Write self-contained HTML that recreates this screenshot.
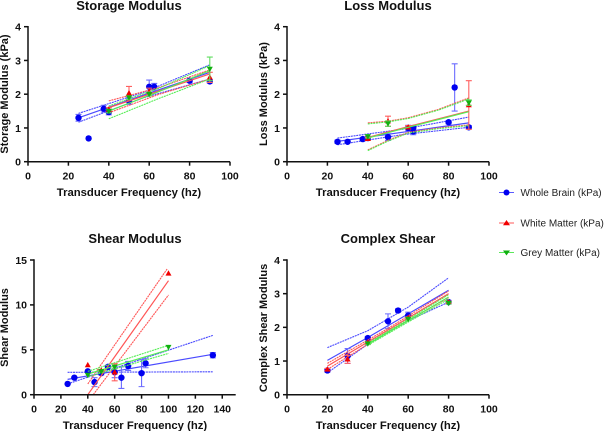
<!DOCTYPE html>
<html>
<head>
<meta charset="utf-8">
<style>
html,body{margin:0;padding:0;background:#fff;width:605px;height:431px;overflow:hidden}
svg{display:block;font-family:"Liberation Sans",Arial,sans-serif;filter:blur(0.35px)}
</style>
</head>
<body>
<svg id="chart" width="605" height="431" viewBox="0 0 605 431" xmlns="http://www.w3.org/2000/svg">
<g>
  <g>
    <line x1="499" y1="192.5" x2="514" y2="192.5" stroke="#5a5aff" stroke-width="1"/>
    <circle cx="506.5" cy="192.5" r="3" fill="#0000f0"/>
    <text x="520.5" y="196" font-size="10" fill="#222">Whole Brain (kPa)</text>
  </g>
  <g>
    <line x1="499" y1="223" x2="514" y2="223" stroke="#ff5a5a" stroke-width="1"/>
    <polygon points="506.5,220 510,225.2 503,225.2" fill="#f00000"/>
    <text x="520.5" y="226.5" font-size="10" fill="#222">White Matter (kPa)</text>
  </g>
  <g>
    <line x1="499" y1="252.5" x2="514" y2="252.5" stroke="#5ae85a" stroke-width="1"/>
    <polygon points="503,250.5 510,250.5 506.5,255.5" fill="#10b010"/>
    <text x="520.5" y="256" font-size="10" fill="#222">Grey Matter (kPa)</text>
  </g>
</g>
</svg>
<script>
// ---- Storage Modulus data ----
var storageWholeX = [25, 30, 37.5, 40, 50, 60, 62.5, 80, 90];
var storageWholeY = [1.3, 0.69, 1.57, 1.47, 1.8, 2.22, 2.22, 2.4, 2.38];
var storageWholeErr = [0.1, 0, 0.1, 0.08, 0.1, 0.2, 0.1, 0.05, 0.05];
var storageWhiteX = [40, 50, 60, 90];
var storageWhiteY = [1.55, 2.03, 2.08, 2.5];
var storageWhiteErr = [0.05, 0.2, 0.1, 0.15];
var storageGreyX = [40, 50, 60, 90];
var storageGreyY = [1.5, 1.9, 2.0, 2.75];
var storageGreyErr = [0.05, 0.05, 0.05, 0.35];
var storageWholeFitX = [25, 57, 90];
var storageWholeFit = [1.3, 1.97, 2.65];
var storageWholeUpper = [1.43, 2.05, 2.87];
var storageWholeLower = [1.17, 1.89, 2.45];
var storageWhiteFitX = [40, 65, 90];
var storageWhiteFit = [1.6, 2.1, 2.6];
var storageWhiteUpper = [1.8, 2.2, 2.72];
var storageWhiteLower = [1.45, 2.0, 2.45];
var storageGreyFitX = [40, 65, 90];
var storageGreyFit = [1.5, 2.08, 2.7];
var storageGreyUpper = [1.65, 2.18, 2.85];
var storageGreyLower = [1.27, 1.88, 2.45];

// ---- Loss Modulus data ----
var lossWholeX = [25, 30, 37.5, 40, 50, 60, 62.5, 62.5, 80, 83, 90];
var lossWholeY = [0.59, 0.59, 0.67, 0.7, 0.73, 1.0, 0.9, 1.0, 1.17, 2.2, 1.02];
var lossWholeErr = [0.05, 0.03, 0.05, 0.05, 0.1, 0.08, 0.1, 0.05, 0.05, 0.7, 0.05];
var lossWhiteX = [40, 50, 60, 90];
var lossWhiteY = [0.68, 1.2, 1.02, 1.68];
var lossWhiteErr = [0.05, 0.15, 0.05, 0.72];
var lossGreyX = [40, 50, 90];
var lossGreyY = [0.75, 1.13, 1.75];
var lossGreyErr = [0.05, 0.08, 0.08];
var lossWholeFitX = [25, 57, 90];
var lossWholeFit = [0.6, 0.87, 1.15];
var lossWholeUpper = [0.7, 0.96, 1.32];
var lossWholeLower = [0.5, 0.8, 1.02];
var lossWhiteFitX = [40, 50, 60, 75, 90];
var lossWhiteFit = [0.72, 0.88, 1.04, 1.27, 1.5];
var lossWhiteUpper = [1.15, 1.2, 1.3, 1.55, 1.89];
var lossWhiteLower = [0.35, 0.63, 0.87, 1.0, 1.09];
var lossGreyFitX = [40, 50, 60, 75, 90];
var lossGreyFit = [0.7, 0.86, 1.02, 1.25, 1.48];
var lossGreyUpper = [1.12, 1.18, 1.28, 1.53, 1.86];
var lossGreyLower = [0.33, 0.61, 0.85, 0.98, 1.07];

// ---- Shear Modulus data ----
var shearWholeX = [25, 30, 40, 45, 50, 55, 60, 65, 70, 80, 83, 133];
var shearWholeY = [1.2, 1.9, 2.6, 1.4, 2.4, 3.1, 2.5, 1.9, 3.2, 2.4, 3.5, 4.4];
var shearWholeErr = [0, 0, 0, 0.5, 0.2, 0, 0.6, 1.2, 0.5, 1.5, 0.5, 0.3];
var shearWhiteX = [40, 50, 60, 100];
var shearWhiteY = [3.3, 2.7, 2.5, 13.5];
var shearWhiteErr = [0, 0.1, 0.95, 0];
var shearGreyX = [40, 50, 60, 100];
var shearGreyY = [2.2, 2.6, 3.1, 5.3];
var shearGreyErr = [0, 0.1, 0.2, 0];
var shearWholeFitX = [25, 133];
var shearWholeFit = [1.7, 4.5];
var shearWholeUpper = [1.2, 6.6];
var shearWholeLower = [2.5, 2.55];
var shearWhiteFitX = [40, 100];
var shearWhiteFit = [0, 12.7];
var shearWhiteUpperX = [40, 99];
var shearWhiteUpper = [1.2, 14];
var shearWhiteLowerX = [44, 100];
var shearWhiteLower = [0, 11.1];
var shearGreyFitX = [40, 100];
var shearGreyFit = [2.3, 5];
var shearGreyUpper = [2.6, 5.5];
var shearGreyLower = [2.0, 4.6];

// ---- Complex Shear data ----
var complexWholeX = [20, 30, 40, 50, 55, 60, 80];
var complexWholeY = [0.72, 1.15, 1.68, 2.18, 2.5, 2.35, 2.75];
var complexWholeErr = [0.05, 0.22, 0.05, 0.22, 0.05, 0.1, 0.05];
var complexWhiteX = [20, 30, 40, 60, 80];
var complexWhiteY = [0.75, 1.05, 1.55, 2.28, 2.75];
var complexWhiteErr = [0.03, 0.12, 0.03, 0.03, 0.03];
var complexGreyX = [40, 60, 80];
var complexGreyY = [1.52, 2.25, 2.72];
var complexGreyErr = [0.03, 0.03, 0.03];
var complexWholeFitX = [20, 40, 60, 80];
var complexWholeFit = [1.02, 1.7, 2.4, 3.1];
var complexWholeUpper = [1.4, 1.9, 2.6, 3.47];
var complexWholeLower = [0.65, 1.5, 2.2, 2.75];
var complexWhiteFitX = [20, 50, 80];
var complexWhiteFit = [0.85, 1.92, 3.0];
var complexWhiteUpper = [0.93, 1.97, 3.08];
var complexWhiteLower = [0.75, 1.87, 2.88];
var complexGreyFitX = [40, 60, 80];
var complexGreyFit = [1.5, 2.2, 2.9];
var complexGreyUpper = [1.53, 2.24, 2.97];
var complexGreyLower = [1.47, 2.16, 2.84];

// ---- Axis tick labels ----
var xTicks100 = [0, 20, 40, 60, 80, 100];
var xTicks150 = [0, 20, 40, 60, 80, 100, 120, 140];
var yTicks4 = [0, 1, 2, 3, 4];
var yTicks15 = [0, 5, 10, 15];

var WHOLE = {line:'#4a4aff', mark:'#0000f0', err:'#6c6cff', kind:'circle', key:'whole'};
var WHITE = {line:'#ff5555', mark:'#f00000', err:'#ff6060', kind:'up', key:'white'};
var GREY  = {line:'#55ee55', mark:'#10b010', err:'#60dd60', kind:'down', key:'grey'};

var svg = document.getElementById('chart');
var NS = 'http://www.w3.org/2000/svg';

function make(parent, tag, attrs, label) {
  var el = document.createElementNS(NS, tag);
  for (var k in attrs) el.setAttribute(k, attrs[k]);
  
  
  parent.appendChild(el);
  return el;
}

function drawPanel(p) {
  var g = make(svg, 'g', {}, p.id + '-panel');
  function sx(v) { return p.x0 + (v - 0) / p.xMax * (p.x1 - p.x0); }
  function sy(v) { return p.y0 - v / p.yMax * (p.y0 - p.y1); }

  var title = make(g, 'text', {x: p.titleX, y: p.titleY, 'text-anchor': 'middle', 'font-size': 13, 'font-weight': 'bold', fill: '#111'}, p.id + '-title');
  title.textContent = p.title;

  var yt = make(g, 'text', {transform: 'translate(' + p.yTitleX + ',' + p.yTitleY + ') rotate(-90)', 'text-anchor': 'middle', 'font-size': 11, 'font-weight': 'bold', fill: '#111'}, p.id + '-y-axis-title');
  yt.textContent = p.yTitle;

  var xt = make(g, 'text', {x: p.xTitleX, y: p.xTitleY, 'text-anchor': 'middle', 'font-size': 11.3, 'font-weight': 'bold', fill: '#111'}, p.id + '-x-axis-title');
  xt.textContent = 'Transducer Frequency (hz)';

  // fits first, then error bars and markers
  p.series.forEach(function (s) {
    var sg = make(g, 'g', {}, p.id + '-' + s.style.key + '-series');
    function poly(xs, ys, dash, label, width) {
      var d = xs.map(function (x, i) { return sx(x).toFixed(1) + ',' + sy(ys[i]).toFixed(1); }).join(' ');
      var attrs = {points: d, fill: 'none', stroke: s.style.line, 'stroke-width': width};
      if (dash) attrs['stroke-dasharray'] = '2 0.7';
      make(sg, 'polyline', attrs, label);
    }
    poly(s.fitX, s.fit, false, p.id + '-' + s.style.key + '-fit-line', 1.2);
    poly(s.upperX || s.fitX, s.upper, true, p.id + '-' + s.style.key + '-upper-band', 1.1);
    poly(s.lowerX || s.fitX, s.lower, true, p.id + '-' + s.style.key + '-lower-band', 1.1);
    s.group = sg;
  });
  [p.series[1], p.series[2], p.series[0]].forEach(function (s) {
    s.x.forEach(function (xv, i) {
      var cx = sx(xv), cy = sy(s.y[i]), e = s.err[i];
      if (e > 0) {
        var top = sy(s.y[i] + e), bot = sy(Math.max(0, s.y[i] - e));
        make(s.group, 'path', {d: 'M' + (cx - 3) + ' ' + top + 'H' + (cx + 3) + 'M' + cx + ' ' + top + 'V' + bot + 'M' + (cx - 3) + ' ' + bot + 'H' + (cx + 3), fill: 'none', stroke: s.style.err, 'stroke-width': 1.1}, p.id + '-' + s.style.key + '-error-bar');
      }
      if (s.style.kind === 'circle') {
        make(s.group, 'circle', {cx: cx, cy: cy, r: 3.2, fill: s.style.mark}, p.id + '-' + s.style.key + '-point');
      } else if (s.style.kind === 'up') {
        make(s.group, 'polygon', {points: cx + ',' + (cy - 3.2) + ' ' + (cx + 3) + ',' + (cy + 2.2) + ' ' + (cx - 3) + ',' + (cy + 2.2), fill: s.style.mark}, p.id + '-' + s.style.key + '-point');
      } else {
        make(s.group, 'polygon', {points: cx + ',' + (cy + 3.2) + ' ' + (cx + 3) + ',' + (cy - 2.2) + ' ' + (cx - 3) + ',' + (cy - 2.2), fill: s.style.mark}, p.id + '-' + s.style.key + '-point');
      }
    });
  });

  // axes
  make(g, 'line', {x1: p.x0 - 0.75, y1: p.y0, x2: p.x1, y2: p.y0, stroke: '#111', 'stroke-width': 1.5}, p.id + '-x-axis');
  make(g, 'line', {x1: p.x0, y1: p.y0, x2: p.x0, y2: p.y1 - 0.75, stroke: '#111', 'stroke-width': 1.5}, p.id + '-y-axis');
  p.xTicks.forEach(function (t) {
    make(g, 'line', {x1: sx(t), y1: p.y0, x2: sx(t), y2: p.y0 + 4, stroke: '#111', 'stroke-width': 1.5}, p.id + '-x-tick');
    var l = make(g, 'text', {x: sx(t), y: p.y0 + 18, 'text-anchor': 'middle', 'font-size': 10.5, 'font-weight': 'bold', fill: '#111'}, p.id + '-x-tick-label');
    l.textContent = t;
  });
  p.yTicks.forEach(function (t) {
    make(g, 'line', {x1: p.x0 - 4, y1: sy(t), x2: p.x0, y2: sy(t), stroke: '#111', 'stroke-width': 1.5}, p.id + '-y-tick');
    var l = make(g, 'text', {x: p.x0 - 7, y: sy(t) + 3.8, 'text-anchor': 'end', 'font-size': 10.5, 'font-weight': 'bold', fill: '#111'}, p.id + '-y-tick-label');
    l.textContent = t;
  });
}

drawPanel({
  id: 'storage', title: 'Storage Modulus', yTitle: 'Storage Modulus (kPa)',
  x0: 28, x1: 230, y0: 161.7, y1: 26.7, xMax: 100, yMax: 4,
  titleX: 129, titleY: 10, yTitleX: 8, yTitleY: 94, xTitleX: 129, xTitleY: 196,
  xTicks: xTicks100, yTicks: yTicks4,
  series: [
    {style: WHOLE, x: storageWholeX, y: storageWholeY, err: storageWholeErr, fitX: storageWholeFitX, fit: storageWholeFit, upper: storageWholeUpper, lower: storageWholeLower},
    {style: WHITE, x: storageWhiteX, y: storageWhiteY, err: storageWhiteErr, fitX: storageWhiteFitX, fit: storageWhiteFit, upper: storageWhiteUpper, lower: storageWhiteLower},
    {style: GREY, x: storageGreyX, y: storageGreyY, err: storageGreyErr, fitX: storageGreyFitX, fit: storageGreyFit, upper: storageGreyUpper, lower: storageGreyLower}
  ]
});
drawPanel({
  id: 'loss', title: 'Loss Modulus', yTitle: 'Loss Modulus (kPa)',
  x0: 287, x1: 489, y0: 161.7, y1: 26.7, xMax: 100, yMax: 4,
  titleX: 388, titleY: 10, yTitleX: 267, yTitleY: 94, xTitleX: 388, xTitleY: 196,
  xTicks: xTicks100, yTicks: yTicks4,
  series: [
    {style: WHOLE, x: lossWholeX, y: lossWholeY, err: lossWholeErr, fitX: lossWholeFitX, fit: lossWholeFit, upper: lossWholeUpper, lower: lossWholeLower},
    {style: WHITE, x: lossWhiteX, y: lossWhiteY, err: lossWhiteErr, fitX: lossWhiteFitX, fit: lossWhiteFit, upper: lossWhiteUpper, lower: lossWhiteLower},
    {style: GREY, x: lossGreyX, y: lossGreyY, err: lossGreyErr, fitX: lossGreyFitX, fit: lossGreyFit, upper: lossGreyUpper, lower: lossGreyLower}
  ]
});
drawPanel({
  id: 'shear', title: 'Shear Modulus', yTitle: 'Shear Modulus',
  x0: 34, x1: 235.7, y0: 394.7, y1: 260, xMax: 150, yMax: 15,
  titleX: 135, titleY: 243, yTitleX: 8, yTitleY: 327.5, xTitleX: 135, xTitleY: 429,
  xTicks: xTicks150, yTicks: yTicks15,
  series: [
    {style: WHOLE, x: shearWholeX, y: shearWholeY, err: shearWholeErr, fitX: shearWholeFitX, fit: shearWholeFit, upper: shearWholeUpper, lower: shearWholeLower},
    {style: WHITE, x: shearWhiteX, y: shearWhiteY, err: shearWhiteErr, fitX: shearWhiteFitX, fit: shearWhiteFit, upperX: shearWhiteUpperX, upper: shearWhiteUpper, lowerX: shearWhiteLowerX, lower: shearWhiteLower},
    {style: GREY, x: shearGreyX, y: shearGreyY, err: shearGreyErr, fitX: shearGreyFitX, fit: shearGreyFit, upper: shearGreyUpper, lower: shearGreyLower}
  ]
});
drawPanel({
  id: 'complex', title: 'Complex Shear', yTitle: 'Complex Shear Modulus',
  x0: 287, x1: 489, y0: 394.7, y1: 260, xMax: 100, yMax: 4,
  titleX: 388, titleY: 243, yTitleX: 267, yTitleY: 328, xTitleX: 388, xTitleY: 429,
  xTicks: xTicks100, yTicks: yTicks4,
  series: [
    {style: WHOLE, x: complexWholeX, y: complexWholeY, err: complexWholeErr, fitX: complexWholeFitX, fit: complexWholeFit, upper: complexWholeUpper, lower: complexWholeLower},
    {style: WHITE, x: complexWhiteX, y: complexWhiteY, err: complexWhiteErr, fitX: complexWhiteFitX, fit: complexWhiteFit, upper: complexWhiteUpper, lower: complexWhiteLower},
    {style: GREY, x: complexGreyX, y: complexGreyY, err: complexGreyErr, fitX: complexGreyFitX, fit: complexGreyFit, upper: complexGreyUpper, lower: complexGreyLower}
  ]
});
</script>
</body>
</html>
